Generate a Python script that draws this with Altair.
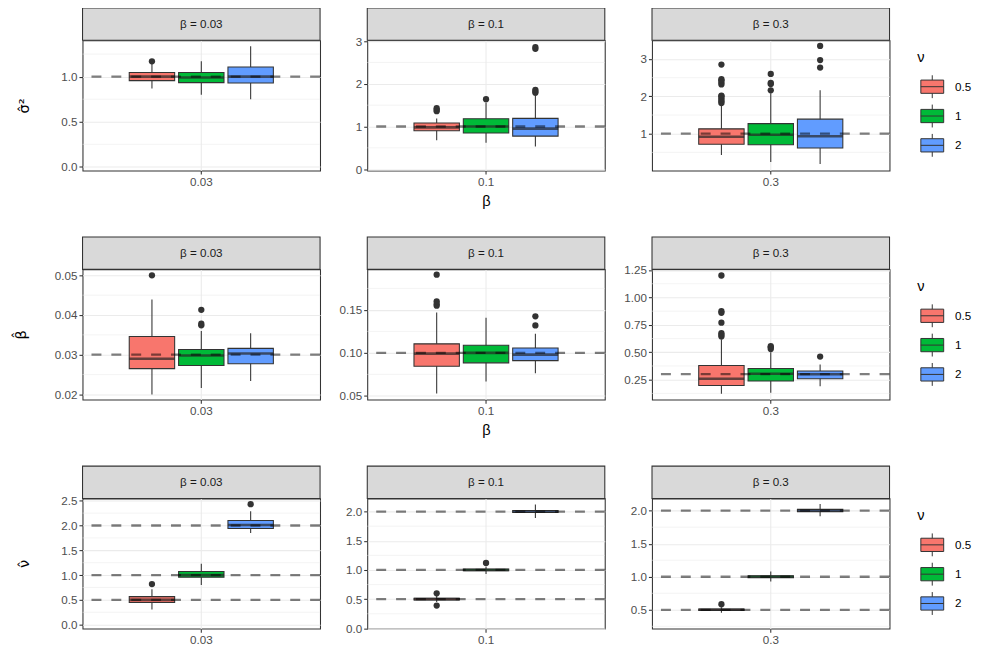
import altair as alt

# ---------------- data ----------------
BETAS = ["0.03", "0.1", "0.3"]
STRIP_LABELS = ["β = 0.03", "β = 0.1", "β = 0.3"]
NUS = ["0.5", "1", "2"]
NU_COLORS = ["#F8766D", "#00BA38", "#619CFF"]
ROW_TITLES = ["σ̂²", "β̂", "ν̂"]

# sigma^2 hat, indexed [beta][nu]
SIG_LO = [[0.868, 0.80, 0.75], [0.68, 0.62, 0.53], [0.43, 0.24, 0.19]]
SIG_Q1 = [[0.956, 0.934, 0.93], [0.90, 0.85, 0.775], [0.716, 0.705, 0.62]]
SIG_MED = [[1.0, 0.99, 1.0], [0.98, 1.0, 0.95], [0.92, 0.97, 0.93]]
SIG_Q3 = [[1.047, 1.047, 1.107], [1.084, 1.18, 1.19], [1.13, 1.27, 1.39]]
SIG_HI = [[1.14, 1.17, 1.337], [1.19, 1.56, 1.72], [1.76, 2.08, 2.16]]
SIG_OUT = [
    [[1.17], [], []],
    [[1.36, 1.39, 1.43], [1.64], [1.79, 1.82, 1.86, 2.82, 2.86]],
    [[1.82, 1.86, 1.90, 1.95, 2.0, 2.02, 2.32, 2.38, 2.43, 2.46, 2.85],
     [2.16, 2.33, 2.36, 2.60], [2.77, 2.97, 3.35]],
]

# beta hat
BET_LO = [[0.0200, 0.0216, 0.0234], [0.0527, 0.0666, 0.0763], [0.123, 0.132, 0.19]]
BET_Q1 = [[0.0265, 0.0273, 0.0277], [0.0844, 0.0884, 0.091], [0.198, 0.238, 0.259]]
BET_MED = [[0.0290, 0.0298, 0.0303], [0.0992, 0.100, 0.098], [0.259, 0.304, 0.30]]
BET_Q3 = [[0.0346, 0.0313, 0.0316], [0.1105, 0.1088, 0.1058], [0.38, 0.352, 0.329]]
BET_HI = [[0.0439, 0.0360, 0.0354], [0.147, 0.141, 0.1224], [0.62, 0.50, 0.389]]
BET_OUT = [
    [[0.050], [0.0374, 0.0378, 0.0413], []],
    [[0.155, 0.157, 0.160, 0.191], [], [0.132, 0.1426]],
    [[0.645, 0.66, 0.675, 0.77, 0.86, 0.875, 1.20], [0.53, 0.545, 0.555], [0.461]],
]

# nu hat
NU_LO = [[0.305, 0.80, 1.85], [0.45, 0.93, 1.89], [0.455, 0.93, 1.915]]
NU_Q1 = [[0.446, 0.955, 1.94], [0.485, 0.985, 1.985], [0.49, 0.985, 1.985]]
NU_MED = [[0.5, 1.0, 2.01], [0.5, 1.0, 2.0], [0.5, 1.0, 2.0]]
NU_Q3 = [[0.566, 1.074, 2.10], [0.515, 1.015, 2.02], [0.51, 1.015, 2.02]]
NU_HI = [[0.715, 1.23, 2.29], [0.555, 1.06, 2.12], [0.54, 1.08, 2.10]]
NU_OUT = [
    [[0.82], [], [2.43]],
    [[0.39, 0.60], [1.12], []],
    [[0.584], [], []],
]

TRUE_VALUES = [[[1.0], [1.0], [1.0]],
               [[0.03], [0.1], [0.3]],
               [[0.5, 1.0, 2.0], [0.5, 1.0, 2.0], [0.5, 1.0, 2.0]]]

Y_DOMAINS = [[[-0.04, 1.403], [-0.03, 3.02], [0.016, 3.5]],
             [[0.0187, 0.0515], [0.0457, 0.1972], [0.069, 1.256]],
             [[-0.08, 2.546], [-0.005, 2.225], [0.215, 2.185]]]
Y_TICKS = [[[0, 0.5, 1.0], [0, 1, 2, 3], [1, 2, 3]],
           [[0.02, 0.03, 0.04, 0.05], [0.05, 0.10, 0.15], [0.25, 0.5, 0.75, 1.0, 1.25]],
           [[0, 0.5, 1, 1.5, 2, 2.5], [0, 0.5, 1, 1.5, 2], [0.5, 1, 1.5, 2]]]
Y_MINOR = [[[0.25, 0.75, 1.25], [0.5, 1.5, 2.5], [0.5, 1.5, 2.5]],
           [[0.025, 0.035, 0.045], [0.075, 0.125, 0.175], [0.125, 0.375, 0.625, 0.875, 1.125]],
           [[0.25, 0.75, 1.25, 1.75, 2.25], [0.25, 0.75, 1.25, 1.75], [0.25, 0.75, 1.25, 1.75]]]
Y_FORMATS = [[".1f", ".0f", ".0f"], [".2f", ".2f", ".2f"], [".1f", ".1f", ".1f"]]

STATS = [
    (SIG_LO, SIG_Q1, SIG_MED, SIG_Q3, SIG_HI, SIG_OUT),
    (BET_LO, BET_Q1, BET_MED, BET_Q3, BET_HI, BET_OUT),
    (NU_LO, NU_Q1, NU_MED, NU_Q3, NU_HI, NU_OUT),
]

# ---------------- layout ----------------
W = 239
H = 131
STRIP_H = 32.5
Y_TITLE_PAD = [30, 26, 30]
FONT = "Liberation Sans"
TITLE_FONT = "DejaVu Sans"
BOX_PATH = "M-1,-0.58H1V0.58H-1Z M-1,0H1 M0,-0.58V-1 M0,0.58V1"


def panel(r, c):
    lo, q1, med, q3, hi, out = STATS[r]
    box_rows = [{"beta": BETAS[c], "nu": NUS[k], "lo": lo[c][k], "q1": q1[c][k],
                 "med": med[c][k], "q3": q3[c][k], "hi": hi[c][k]} for k in range(3)]
    out_rows = [{"beta": BETAS[c], "nu": NUS[k], "v": v}
                for k in range(3) for v in out[c][k]]
    ref_rows = [{"t": t} for t in TRUE_VALUES[r][c]]
    minor_rows = [{"m": m} for m in Y_MINOR[r][c]]
    strip_rows = [{"s": STRIP_LABELS[c]}]

    yscale = alt.Scale(domain=Y_DOMAINS[r][c], nice=False, zero=False)
    yaxis = alt.Axis(values=Y_TICKS[r][c], format=Y_FORMATS[r][c],
                     title=ROW_TITLES[r] if c == 0 else None, grid=True,
                     titlePadding=Y_TITLE_PAD[r], titleFont=TITLE_FONT)
    xaxis = alt.Axis(title="β" if (c == 1 and r < 2) else None, labelAngle=0,
                     grid=True, bandPosition=0.5)
    xenc = alt.X("beta:N", scale=alt.Scale(domain=[BETAS[c]], paddingInner=0, paddingOuter=0.3),
                 axis=xaxis)
    xoff = alt.XOffset("nu:N", scale=alt.Scale(domain=NUS, paddingInner=0.08, paddingOuter=0.044))

    if c == 2:
        legend = alt.Legend(title="ν", orient="none", legendX=267, legendY=10,
                            symbolType=BOX_PATH, symbolSize=529,
                            symbolStrokeColor="#333333", symbolStrokeWidth=1)
    else:
        legend = None

    minor = alt.Chart(alt.Data(values=minor_rows)).mark_rule(
        color="#EBEBEB", strokeWidth=0.55
    ).encode(y=alt.Y("m:Q", scale=yscale, axis=yaxis))

    base = alt.Chart(alt.Data(values=box_rows))
    whisk = base.mark_rule(color="#333333", strokeWidth=1.07).encode(
        x=xenc, xOffset=xoff,
        y=alt.Y("lo:Q", scale=yscale, axis=yaxis), y2="hi:Q")
    boxes = base.mark_bar(stroke="#333333", strokeWidth=1.07).encode(
        x=xenc, xOffset=xoff,
        y=alt.Y("q1:Q", scale=yscale, axis=yaxis), y2="q3:Q",
        fill=alt.Fill("nu:N", scale=alt.Scale(domain=NUS, range=NU_COLORS), legend=legend))
    medians = base.mark_tick(color="#262626", thickness=2.6, size=45.7).encode(
        x=xenc, xOffset=xoff, y=alt.Y("med:Q", scale=yscale, axis=yaxis))
    layers = [minor, whisk, boxes, medians]
    if out_rows:
        pts = alt.Chart(alt.Data(values=out_rows)).mark_circle(
            color="#333333", opacity=1, size=40
        ).encode(x=xenc, xOffset=xoff, y=alt.Y("v:Q", scale=yscale, axis=yaxis))
        layers.append(pts)
    ref = alt.Chart(alt.Data(values=ref_rows)).mark_rule(
        color="#000000", opacity=0.5, strokeWidth=2.3, strokeDash=[10, 10]
    ).encode(y=alt.Y("t:Q", scale=yscale, axis=yaxis))
    strip = alt.Chart(alt.Data(values=strip_rows)).mark_rect(
        fill="#D9D9D9", stroke="#333333", strokeWidth=1.07
    ).encode(x=alt.value(0), x2=alt.value(W), y=alt.value(-STRIP_H), y2=alt.value(0))
    strip_text = alt.Chart(alt.Data(values=strip_rows)).mark_text(
        font=FONT, fontSize=11.7, color="#1A1A1A", align="center", baseline="middle"
    ).encode(x=alt.value(W / 2), y=alt.value(-STRIP_H / 2), text="s:N")
    layers += [ref, strip, strip_text]
    return alt.layer(*layers).properties(width=W, height=H)


panels = [panel(r, c) for r in range(3) for c in range(3)]

chart = alt.concat(
    *panels, columns=3, bounds="flush", spacing={"row": 99.5, "column": 47.5}
).resolve_scale(
    fill="independent"
).properties(
    padding={"left": 5, "top": -3.5, "right": 2, "bottom": 0}
).configure(
    font=FONT
).configure_view(
    stroke="#333333", strokeWidth=1.07
).configure_axis(
    labelFont=FONT, labelFontSize=11.7, labelColor="#4D4D4D",
    tickColor="#333333", tickSize=3.6, tickWidth=1.07, domain=False,
    gridColor="#EBEBEB", gridWidth=1.07,
    titleFont=FONT, titleFontSize=14.7, titleFontWeight="normal", titleColor="#000000"
).configure_axisX(
    labelPadding=2.5, titlePadding=5
).configure_axisY(
    labelPadding=2
).configure_legend(
    titleFont=FONT, titleFontSize=14.7, titleFontWeight="normal", titleColor="#000000",
    labelFont=FONT, labelFontSize=11.7, labelColor="#000000",
    padding=0, rowPadding=1.5, titlePadding=10, labelOffset=11, symbolOffset=3
)

chart.save("out.html", embed_options={"renderer": "svg", "actions": False})
